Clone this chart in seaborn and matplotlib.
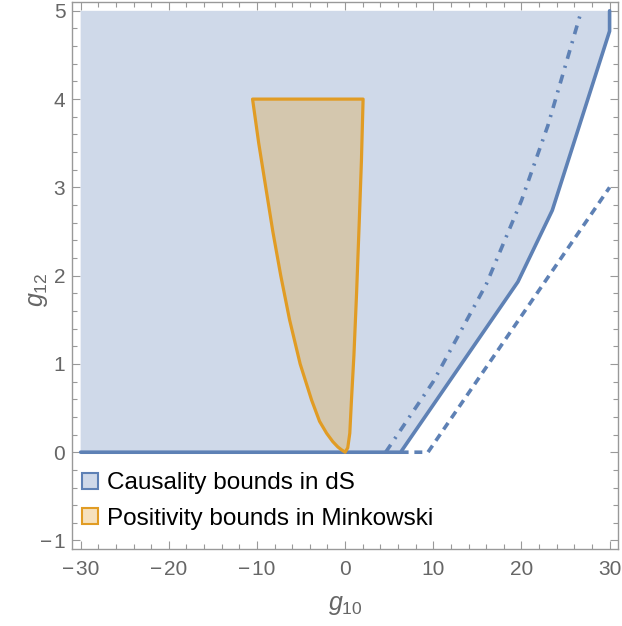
import numpy as np
import pandas as pd
import matplotlib
matplotlib.use("Agg")
import matplotlib.pyplot as plt
from matplotlib.patches import Patch
from matplotlib.ticker import MultipleLocator
import seaborn as sns

# causality region (dS): lower/right boundary, solid
causal_x = [-30.0, 6.3, 19.6, 23.5, 30.0, 30.0]
causal_y = [0.0, 0.0, 1.93, 2.74, 4.77, 5.0]
region_top = 5.0

# dashed bound
dashed_x = [6.3, 9.4, 30.0]
dashed_y = [0.0, 0.0, 3.0]

# dash-dot bound
dashdot_x = [4.6, 10.0, 16.0, 20.0, 23.0, 26.8]
dashdot_y = [0.0, 0.8, 1.9, 2.85, 3.7, 5.0]

# positivity region (Minkowski)
pos_left_x = [0.0, -0.45, -0.83, -1.4, -2.1, -2.9, -3.8, -5.1, -6.3, -7.3,
              -8.2, -9.0, -9.8, -10.5]
pos_left_y = [0.0, 0.03, 0.06, 0.12, 0.215, 0.35, 0.59, 1.0, 1.5, 2.0,
              2.5, 3.0, 3.5, 4.0]
pos_right_x = [0.0, 0.3, 0.53, 0.72, 1.0, 1.3, 1.6, 1.85, 2.04]
pos_right_y = [0.0, 0.05, 0.215, 0.59, 1.1, 1.8, 2.6, 3.3, 4.0]

xticks = [-30, -20, -10, 0, 10, 20, 30]
yticks = [-1, 0, 1, 2, 3, 4, 5]
legend_labels = ["Causality bounds in dS", "Positivity bounds in Minkowski"]

blue = "#5E81B5"
blue_fill = "#CFD9E9"
orange = "#E19C24"
orange_fill = "#D4C7AE"
orange_legend = "#F6E1BD"
gray = "#666666"

sns.set_theme(style="white")
plt.rcParams["font.family"] = ["Liberation Sans", "DejaVu Sans"]
plt.rcParams["mathtext.fontset"] = "custom"
plt.rcParams["mathtext.rm"] = "Liberation Sans"
plt.rcParams["mathtext.it"] = "Liberation Sans:italic"

fig = plt.figure(figsize=(6.22, 6.26), dpi=100)
ax = fig.add_axes([0.1162, 0.1225, 0.8773, 0.8743])

# blue region
poly_x = causal_x + [-30.0]
poly_y = causal_y + [region_top]
ax.fill(poly_x, poly_y, color=blue_fill, lw=0, zorder=1)

# orange region
ox = pos_left_x + pos_right_x[::-1]
oy = pos_left_y + pos_right_y[::-1]
ax.fill(ox, oy, facecolor=orange_fill, edgecolor=orange, lw=2.3, zorder=3,
        joinstyle="round")

df_c = pd.DataFrame({"x": causal_x, "y": causal_y})
sns.lineplot(data=df_c, x="x", y="y", sort=False, estimator=None, ax=ax,
             color=blue, lw=2.6, zorder=2)
df_d = pd.DataFrame({"x": dashed_x, "y": dashed_y})
sns.lineplot(data=df_d, x="x", y="y", sort=False, estimator=None, ax=ax,
             color=blue, lw=2.6, zorder=2, linestyle=(0, (2.2, 1.6)))
df_dd = pd.DataFrame({"x": dashdot_x, "y": dashdot_y})
sns.lineplot(data=df_dd, x="x", y="y", sort=False, estimator=None, ax=ax,
             color=blue, lw=2.6, zorder=2, linestyle=(0, (2.5, 2.0, 0.6, 2.0)))

ax.set_xlim(-30.95, 30.95)
ax.set_ylim(-1.1, 5.1)
ax.set_xticks(xticks)
ax.set_yticks(yticks)
ax.set_xticklabels([str(t).replace("-", "\u2212\u200a") for t in xticks])
ax.set_yticklabels([str(t).replace("-", "\u2212\u200a") for t in yticks])
ax.xaxis.set_minor_locator(MultipleLocator(2))
ax.yaxis.set_minor_locator(MultipleLocator(0.2))
ax.tick_params(which="both", direction="in", top=True, right=True,
               bottom=True, left=True, color="#999999", width=0.8,
               labelsize=15, labelcolor=gray)
ax.tick_params(which="major", length=6)
ax.tick_params(which="minor", length=3.5)
ax.tick_params(axis="x", pad=8)
ax.tick_params(axis="y", pad=5)
for s in ax.spines.values():
    s.set_color("#999999")
    s.set_linewidth(1.0)

ax.set_xlabel(r"$g_{\mathrm{10}}$", fontsize=18, color=gray, labelpad=10)
ax.set_ylabel(r"$g_{\mathrm{12}}$", fontsize=18, color=gray)
ax.yaxis.set_label_coords(-0.04, 0.474)

handles = [Patch(facecolor=blue_fill, edgecolor=blue, lw=1.5),
           Patch(facecolor=orange_legend, edgecolor=orange, lw=1.5)]
leg = ax.legend(handles, legend_labels,
                loc="lower left", bbox_to_anchor=(0.0, 0.018), frameon=False,
                fontsize=17.5, handlelength=0.64, handleheight=0.64,
                handletextpad=0.4, labelspacing=0.55, borderaxespad=0.0,
                borderpad=0.4)
for t in leg.get_texts():
    t.set_color("black")

fig.savefig("out.png", dpi=100)
